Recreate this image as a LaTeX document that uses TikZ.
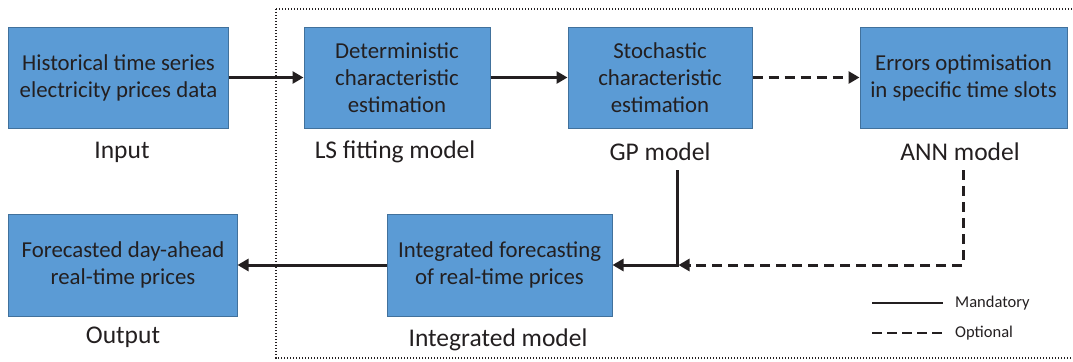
\documentclass[tikz,border=0pt]{standalone}
\usepackage{fontspec}
\setmainfont{Carlito}
\usetikzlibrary{arrows.meta}
\definecolor{boxfill}{HTML}{5B9BD5}
\definecolor{boxedge}{HTML}{41719C}
\definecolor{ink}{HTML}{231F20}
\begin{document}
\begin{tikzpicture}[x=1bp,y=-1bp,
  blk/.style={draw=boxedge,fill=boxfill,line width=1bp,inner sep=0pt,align=center,
    font=\fontsize{22.8bp}{27bp}\selectfont,text=ink},
  lbl/.style={font=\fontsize{25.5bp}{29bp}\selectfont,text=ink,inner sep=0pt},
  leg/.style={font=\fontsize{16.5bp}{19bp}\selectfont,text=ink,inner sep=0pt,anchor=west},
  conn/.style={draw=ink,line width=3bp,-{Triangle[length=11bp,width=12bp]}},
  opt/.style={conn,dash pattern=on 10bp off 6bp},
  plain/.style={draw=ink,line width=3bp},
  plaindash/.style={plain,dash pattern=on 10bp off 6bp}]
\useasboundingbox (0,0) rectangle (1073,361);
\clip (0,0) rectangle (1073,361);
\draw[ink,line width=1.4bp,dash pattern=on 1.4bp off 1.6bp] (276,9) rectangle (1090,358);
% boxes
\node[blk,minimum width=219bp,minimum height=101bp] (hist) at (118.5,77.5) {Historical time series\\electricity prices data};
\node[blk,minimum width=186bp,minimum height=101bp] (det) at (397,77.5) {Deterministic\\characteristic\\estimation};
\node[blk,minimum width=184bp,minimum height=101bp] (sto) at (660,77.5) {Stochastic\\characteristic\\estimation};
\node[blk,minimum width=207bp,minimum height=101bp] (err) at (963.5,77.5) {Errors optimisation\\in specific time slots};
\node[blk,minimum width=228bp,minimum height=102bp] (fore) at (123,265) {Forecasted day-ahead\\real-time prices};
\node[blk,minimum width=225bp,minimum height=102bp] (integ) at (499.5,265) {Integrated forecasting\\of real-time prices};
% labels
\node[lbl] (linput) at (122,152) {Input};
\node[lbl] (lls) at (395,152) {LS fitting model};
\node[lbl] (lgp) at (660,152) {GP model};
\node[lbl] (lann) at (960,152) {ANN model};
\node[lbl] (lout) at (123,337) {Output};
\node[lbl] (lint) at (498,340) {Integrated model};
% connectors
\draw[conn] (hist.east) -- (det.west);
\draw[conn] (det.east) -- (sto.west);
\draw[opt] (sto.east) -- (err.west);
\coordinate (gptop) at (677,170);
\coordinate (gpbot) at (677,265);
\coordinate (anntop) at (963,170);
\coordinate (annbot) at (963,265);
\draw[plaindash] (anntop) -- (annbot) -- ([xshift=16bp]gpbot);
\draw[conn,dash pattern=on 10bp off 6bp] ([xshift=14bp]gpbot) -- ([xshift=1.5bp]gpbot);
\draw[conn] (gptop) -- (gpbot) -- (integ.east);
\draw[conn] (integ.west) -- (fore.east);
% legend
\coordinate (m1) at (872,303);
\coordinate (m2) at (943,303);
\coordinate (o1) at (872,333);
\coordinate (o2) at (943,333);
\draw[plain,line width=2.6bp] (m1) -- (m2);
\draw[plain,line width=2.6bp,dash pattern=on 10bp off 5bp] (o1) -- (o2);
\node[leg] (lm) at (955,303) {Mandatory};
\node[leg] (lo) at (955,333) {Optional};
\end{tikzpicture}
\end{document}
